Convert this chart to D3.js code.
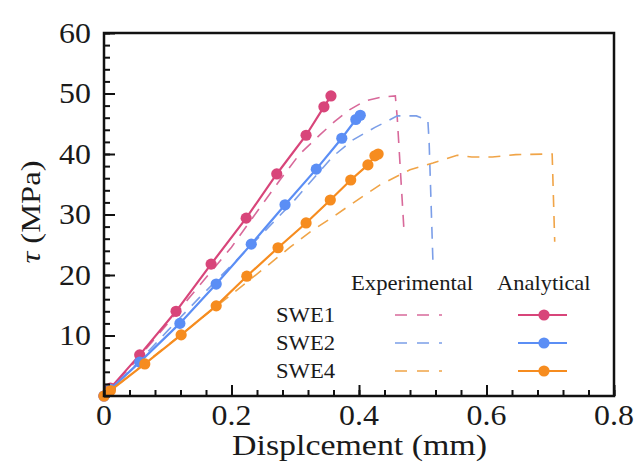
<!DOCTYPE html>
<html><head><meta charset="utf-8">
<script src="https://cdn.jsdelivr.net/npm/d3@7"></script>
<style>body{margin:0;background:#fff;}svg{display:block;}</style>
</head><body><svg id="c" width="636" height="464"></svg>
<script>
// ---- data ----
const seriesNames = ["SWE1", "SWE2", "SWE4"];
const colors = ["#d8457a", "#5b8ef5", "#f68c1f"];
const dashColors = ["#d8699a", "#7b9ee8", "#f0a447"];

const swe1AnaX = [0, 0.01, 0.056, 0.113, 0.168, 0.223, 0.271, 0.317, 0.345, 0.356];
const swe1AnaY = [0, 1.3, 6.8, 14.0, 21.8, 29.4, 36.7, 43.1, 47.8, 49.6];
const swe2AnaX = [0, 0.01, 0.056, 0.119, 0.176, 0.231, 0.284, 0.333, 0.373, 0.395, 0.402];
const swe2AnaY = [0, 1.1, 5.6, 12.0, 18.5, 25.1, 31.6, 37.5, 42.6, 45.7, 46.4];
const swe4AnaX = [0, 0.01, 0.064, 0.121, 0.176, 0.224, 0.273, 0.317, 0.355, 0.387, 0.414, 0.425, 0.430];
const swe4AnaY = [0, 0.9, 5.3, 10.1, 14.9, 19.8, 24.5, 28.6, 32.4, 35.7, 38.2, 39.7, 40.0];

const swe1ExpX = [0, 0.05, 0.1, 0.15, 0.2, 0.245, 0.276, 0.307, 0.339, 0.362, 0.385, 0.41, 0.435, 0.457, 0.46, 0.471];
const swe1ExpY = [0, 5.8, 12.0, 18.3, 24.6, 31.2, 35.7, 40.0, 43.2, 45.4, 47.3, 48.8, 49.4, 49.6, 46.0, 26.6];
const swe2ExpX = [0, 0.05, 0.1, 0.15, 0.2, 0.25, 0.3, 0.359, 0.39, 0.425, 0.444, 0.46, 0.49, 0.508, 0.51, 0.516];
const swe2ExpY = [0, 5.2, 10.8, 16.3, 21.6, 27.0, 32.5, 39.6, 42.3, 44.4, 45.4, 46.3, 46.3, 45.6, 42.0, 22.1];
const swe4ExpX = [0, 0.05, 0.1, 0.15, 0.2, 0.25, 0.292, 0.323, 0.359, 0.402, 0.433, 0.48, 0.516, 0.554, 0.577, 0.609, 0.646, 0.696, 0.703, 0.707];
const swe4ExpY = [0, 4.2, 8.4, 12.6, 16.8, 21.0, 24.6, 27.1, 29.6, 32.7, 34.9, 37.4, 38.5, 39.8, 39.5, 39.5, 39.9, 40.0, 40.0, 25.5];

const xTicks = [0, 0.2, 0.4, 0.6, 0.8];
const xTickLabels = ["0", "0.2", "0.4", "0.6", "0.8"];
const yTicks = [10, 20, 30, 40, 50, 60];
const yTickLabels = ["10", "20", "30", "40", "50", "60"];
const xTitle = "Displcement (mm)";
const yTitleSym = "τ";
const yTitleUnit = " (MPa)";
const legendHeads = ["Experimental", "Analytical"];

// ---- layout ----
const W = 636, H = 464;
const m = {l: 104, r: 22, t: 33, b: 68};
const svg = d3.select("#c");
const x = d3.scaleLinear().domain([0, 0.8]).range([m.l, W - m.r]);
const y = d3.scaleLinear().domain([0, 60]).range([H - m.b, m.t]);
const font = "'Liberation Serif','Times New Roman',serif";
const txt = "#1a1a1a";

function stretch(sel, f) {
  sel.each(function () {
    const l = this.getComputedTextLength();
    d3.select(this).attr("textLength", l * f).attr("lengthAdjust", "spacingAndGlyphs");
  });
}

const zip = (a, b) => a.map((v, i) => [v, b[i]]);
const ana = [zip(swe1AnaX, swe1AnaY), zip(swe2AnaX, swe2AnaY), zip(swe4AnaX, swe4AnaY)];
const exp = [zip(swe1ExpX, swe1ExpY), zip(swe2ExpX, swe2ExpY), zip(swe4ExpX, swe4ExpY)];
const line = d3.line().x(d => x(d[0])).y(d => y(d[1]));

// experimental dashed
exp.forEach((s, i) => {
  svg.append("path").attr("d", line(s)).attr("fill", "none")
    .attr("stroke", dashColors[i]).attr("stroke-width", 1.6)
    .attr("stroke-dasharray", "12,9");
});
// analytical
ana.forEach((s, i) => {
  svg.append("path").attr("d", line(s)).attr("fill", "none")
    .attr("stroke", colors[i]).attr("stroke-width", 2.2);
  svg.selectAll(null).data(s).enter().append("circle")
    .attr("cx", d => x(d[0])).attr("cy", d => y(d[1])).attr("r", 5.6)
    .attr("fill", colors[i]);
});

// axes
const xMinor = d3.range(0, 0.8001, 0.04);
const yMinor = d3.range(0, 60.001, 2);
const xAx = svg.append("g").attr("transform", `translate(0,${y(0)})`)
  .call(d3.axisTop(x).tickValues(xMinor).tickSize(6).tickFormat(""));
xAx.select(".domain").remove();
const xAxM = svg.append("g").attr("transform", `translate(0,${y(0)})`)
  .call(d3.axisTop(x).tickValues(xTicks).tickSize(11).tickFormat(""));
xAxM.select(".domain").remove();
const yAx = svg.append("g").attr("transform", `translate(${x(0)},0)`)
  .call(d3.axisRight(y).tickValues(yMinor).tickSize(6).tickFormat(""));
yAx.select(".domain").remove();
const yAxM = svg.append("g").attr("transform", `translate(${x(0)},0)`)
  .call(d3.axisRight(y).tickValues(yTicks).tickSize(11).tickFormat(""));
yAxM.select(".domain").remove();
svg.selectAll(".tick line").attr("stroke", "#111").attr("stroke-width", 2);

// frame
svg.append("rect").attr("x", x(0)).attr("y", y(60)).attr("width", x(0.8) - x(0))
  .attr("height", y(0) - y(60)).attr("fill", "none").attr("stroke", "#111").attr("stroke-width", 2.5);

// tick labels
const xl = svg.selectAll(null).data(xTicks).enter().append("text")
  .attr("x", d => x(d)).attr("y", y(0) + 29).attr("text-anchor", "middle")
  .attr("font-family", font).attr("font-size", 29).attr("fill", txt)
  .text((d, i) => xTickLabels[i]);
stretch(xl, 1.1);
const yl = svg.selectAll(null).data(yTicks).enter().append("text")
  .attr("x", x(0) - 13).attr("y", d => y(d)).attr("dy", "0.34em").attr("text-anchor", "end")
  .attr("font-family", font).attr("font-size", 29).attr("fill", txt)
  .text((d, i) => yTickLabels[i]);
stretch(yl, 1.1);

// titles
svg.append("text").attr("x", 359.5).attr("y", 455).attr("text-anchor", "middle")
  .attr("font-family", font).attr("font-size", 30).attr("fill", txt)
  .attr("textLength", 255).attr("lengthAdjust", "spacingAndGlyphs").text(xTitle);
const yt = svg.append("text").attr("transform", `translate(40,212) rotate(-90)`)
  .attr("text-anchor", "middle").attr("font-family", font).attr("font-size", 28).attr("fill", txt)
  .attr("textLength", 103).attr("lengthAdjust", "spacingAndGlyphs");
yt.append("tspan").attr("font-style", "italic").text(yTitleSym);
yt.append("tspan").text(yTitleUnit);

// legend
const lg = svg.append("g").attr("font-family", font).attr("font-size", 21).attr("fill", txt);
const h1 = lg.append("text").attr("x", 351).attr("y", 290).text(legendHeads[0]);
const h2 = lg.append("text").attr("x", 497).attr("y", 290).text(legendHeads[1]);
stretch(h1, 1.08); stretch(h2, 1.07);
const rowsY = [315, 343, 371];
seriesNames.forEach((n, i) => {
  const t = lg.append("text").attr("x", 276).attr("y", rowsY[i]).attr("dy", "0.35em").text(n);
  stretch(t, 1.08);
  lg.append("line").attr("x1", 395).attr("x2", 442).attr("y1", rowsY[i]).attr("y2", rowsY[i])
    .attr("stroke", dashColors[i]).attr("stroke-width", 1.6).attr("stroke-dasharray", "12,10");
  lg.append("line").attr("x1", 518).attr("x2", 567).attr("y1", rowsY[i]).attr("y2", rowsY[i])
    .attr("stroke", colors[i]).attr("stroke-width", 2.2);
  lg.append("circle").attr("cx", 544).attr("cy", rowsY[i]).attr("r", 5.6).attr("fill", colors[i]);
});
</script></body></html>
